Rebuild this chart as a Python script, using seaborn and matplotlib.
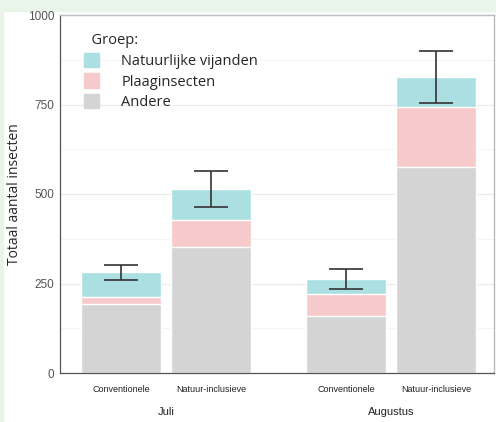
import matplotlib
matplotlib.use("Agg")
import matplotlib.pyplot as plt
from matplotlib.patches import Patch, Rectangle
import seaborn as sns
import pandas as pd

# data
maanden = ["Juli", "Augustus"]
systemen = ["Conventionele", "Natuur-inclusieve", "Conventionele", "Natuur-inclusieve"]
xpos = [0, 1, 2.5, 3.5]
andere = [193, 352, 159, 575]
plaag = [19, 75, 62, 168]
natuurlijk = [70, 87, 42, 84]
fout = [21, 51, 27, 72]

df = pd.DataFrame({"x": xpos, "systeem": systemen,
                   "andere": andere, "plaag": plaag, "natuurlijk": natuurlijk})
df["laag2"] = df["andere"] + df["plaag"]
df["totaal"] = df["laag2"] + df["natuurlijk"]

kleur_nat = "#abdfe2"
kleur_plaag = "#f6caca"
kleur_andere = "#d4d4d4"

sns.set_theme(style="white")
plt.rcParams["font.family"] = ["Liberation Sans", "DejaVu Sans"]

fig = plt.figure(figsize=(4.96, 4.22), dpi=100)
fig.patch.set_facecolor("white")
# light green frame of the screenshot
fig.patches.append(Rectangle((0, 1 - 11 / 422), 1, 11 / 422, transform=fig.transFigure,
                             color="#eaf5ea", zorder=-1))
fig.patches.append(Rectangle((0, 0), 3 / 496, 1, transform=fig.transFigure,
                             color="#eaf5ea", zorder=-1))

ax = fig.add_axes([60 / 496, 1 - 373 / 422, 434 / 496, 358 / 422])

# stacked bars, drawn as cumulative layers
for col, kl in [("totaal", kleur_nat), ("laag2", kleur_plaag), ("andere", kleur_andere)]:
    sns.barplot(data=df, x="x", y=col, native_scale=True, width=0.89,
                color=kl, saturation=1, errorbar=None, ax=ax, zorder=2)

ax.errorbar(df["x"], df["totaal"], yerr=fout, fmt="none", ecolor="#333333",
            elinewidth=1.2, capsize=12, capthick=1.2, zorder=4)

ax.set_xlim(-0.678, 4.144)
ax.set_ylim(0, 1000)
ax.set_yticks([0, 250, 500, 750, 1000])
ax.set_yticks([125, 375, 625, 875], minor=True)
ax.grid(axis="y", which="major", color="#ebebeb", linewidth=0.9, zorder=0)
ax.grid(axis="y", which="minor", color="#f3f3f3", linewidth=0.6, zorder=0)
ax.set_axisbelow(True)

ticks = [0, 0.5, 1, 2.5, 3.0, 3.5]
labels = ["Conventionele", "", "Natuur-inclusieve", "Conventionele", "", "Natuur-inclusieve"]
ax.set_xticks(ticks)
ax.set_xticklabels(labels, fontsize=6.5, color="#222222")
ax.tick_params(axis="x", length=3, color="#444444", pad=6)
ax.tick_params(axis="y", length=3, color="#444444", labelsize=8.5, labelcolor="#555555", pad=1)
ax.set_xlabel("")
ax.set_ylabel("Totaal aantal insecten", fontsize=10, labelpad=4,
              family=["Open Sans", "DejaVu Sans"])

for m, xc in zip(maanden, [0.5, 3.0]):
    ax.text(xc, -0.095, m, transform=ax.get_xaxis_transform(), ha="center", va="top",
            fontsize=8, color="#222222")

for s in ["top", "right"]:
    ax.spines[s].set_color("#bbbbbb")
    ax.spines[s].set_linewidth(1.0)
for s in ["left", "bottom"]:
    ax.spines[s].set_color("#555555")
    ax.spines[s].set_linewidth(0.9)

handles = [Patch(color=kleur_nat), Patch(color=kleur_plaag), Patch(color=kleur_andere)]
leg = ax.legend(handles, ["Natuurlijke vijanden", "Plaaginsecten", "Andere"],
                title="  Groep:", loc="upper left", bbox_to_anchor=(0.025, 0.985),
                frameon=False, title_fontsize=10.5,
                handlelength=1.05, handleheight=1.15, handletextpad=1.5,
                labelspacing=0.3, prop={"family": ["Open Sans", "DejaVu Sans"], "size": 10.5})
leg._legend_box.align = "left"
leg.get_title().set_family(["Open Sans", "DejaVu Sans"])

fig.savefig("out.png", dpi=100)
